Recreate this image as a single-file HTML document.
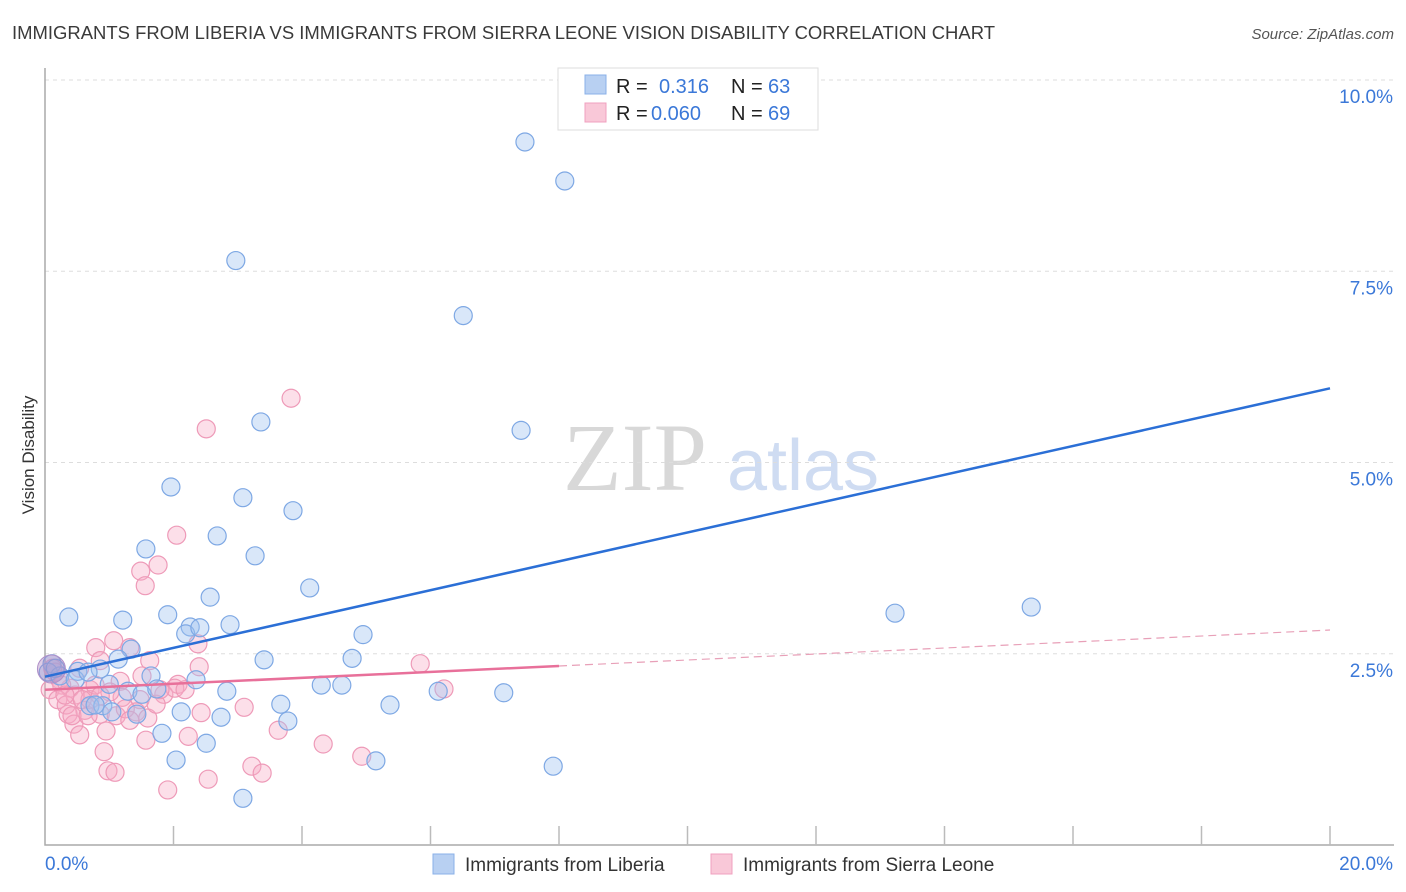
<!DOCTYPE html>
<html><head><meta charset="utf-8">
<style>
body{margin:0;background:#fff;font-family:"Liberation Sans",sans-serif;}
svg{display:block}
</style></head>
<body>
<svg id="chart" width="1406" height="892" xmlns="http://www.w3.org/2000/svg" font-family="Liberation Sans, sans-serif">
<text x="12" y="39" font-size="18" fill="#3a3a3a" textLength="983" lengthAdjust="spacingAndGlyphs">IMMIGRANTS FROM LIBERIA VS IMMIGRANTS FROM SIERRA LEONE VISION DISABILITY CORRELATION CHART</text>
<text x="1394" y="39" font-size="15" fill="#555" text-anchor="end" font-style="italic">Source: ZipAtlas.com</text>
<text x="34" y="455" font-size="17" fill="#333" text-anchor="middle" transform="rotate(-90 34 455)">Vision Disability</text>
<g>
<text x="635" y="490" font-size="96" fill="#d8d8d8" text-anchor="middle" font-family="Liberation Serif, serif">ZIP</text>
<text x="803" y="490" font-size="72" fill="#cfdcf2" text-anchor="middle">atlas</text>
</g>
<g id="grid"></g><g id="axes"></g><g id="pts"></g><g id="lines"></g>
<g>
<rect x="558" y="68" width="260" height="62" fill="#fff" stroke="#ddd"/>
<rect x="585" y="75" width="21" height="19" fill="#b8d0f2" stroke="#8ab0e8"/>
<rect x="585" y="103" width="21" height="19" fill="#f9c8d8" stroke="#f0a0bf"/>
<text x="616" y="93" font-size="20" fill="#222">R = </text><text x="659" y="93" font-size="20" fill="#3b78d8">0.316</text>
<text x="731" y="93" font-size="20" fill="#222">N = </text><text x="768" y="93" font-size="20" fill="#3b78d8">63</text>
<text x="616" y="120" font-size="20" fill="#222">R = </text><text x="651" y="120" font-size="20" fill="#3b78d8">0.060</text>
<text x="731" y="120" font-size="20" fill="#222">N = </text><text x="768" y="120" font-size="20" fill="#3b78d8">69</text>
</g>
<g>
<rect x="433" y="854" width="21" height="20" fill="#b8d0f2" stroke="#8ab0e8"/>
<text x="465" y="871" font-size="19" fill="#333">Immigrants from Liberia</text>
<rect x="711" y="854" width="21" height="20" fill="#f9c8d8" stroke="#f0a0bf"/>
<text x="743" y="871" font-size="19" fill="#333">Immigrants from Sierra Leone</text>
</g>
</svg>
<script>
const blueX=[7.47,8.09,2.97,6.51,7.41,3.36,1.96,3.08,3.86,2.68,1.57,3.27,4.12,2.57,0.37,1.21,1.91,13.23,15.35,2.26,2.88,2.19,2.41,4.95,1.34,1.14,3.41,4.78,0.11,0.51,0.86,1.65,2.35,1.00,1.29,1.51,1.74,2.83,4.30,4.62,6.12,7.14,0.70,0.90,3.67,5.37,2.12,2.74,3.78,1.43,1.82,2.51,2.04,5.15,7.91,3.08,0.05,0.23,0.47,0.67,0.16,0.78,1.04];
const blueY=[9.19,8.68,7.64,6.92,5.42,5.53,4.68,4.54,4.37,4.04,3.87,3.78,3.36,3.24,2.98,2.94,3.01,3.03,3.11,2.85,2.88,2.76,2.84,2.75,2.56,2.43,2.42,2.44,2.37,2.27,2.30,2.21,2.16,2.10,2.01,1.97,2.04,2.01,2.09,2.09,2.01,1.99,1.82,1.82,1.84,1.83,1.74,1.67,1.62,1.71,1.46,1.33,1.11,1.10,1.03,0.61,2.26,2.21,2.16,2.26,2.31,1.83,1.74];
const pinkX=[3.83,2.51,2.05,1.76,1.49,1.56,0.79,1.07,1.32,1.63,2.38,2.40,5.84,6.21,0.86,0.54,0.23,0.39,0.70,1.17,2.07,1.85,1.48,0.47,0.62,0.86,1.11,1.42,1.60,2.43,3.10,0.36,0.45,0.54,0.95,2.23,1.57,3.63,4.33,4.93,0.92,3.22,3.38,0.98,1.09,2.54,1.91,0.16,0.26,0.08,0.20,0.33,0.42,0.70,1.20,1.73,2.02,1.25,0.78,0.31,0.12,1.01,0.58,1.79,1.32,2.18,1.51,0.86,0.67];
const pinkY=[5.84,5.44,4.05,3.66,3.58,3.39,2.58,2.67,2.58,2.41,2.63,2.33,2.37,2.04,2.41,2.31,2.16,2.05,2.03,2.14,2.10,1.97,1.90,1.96,1.76,1.71,1.69,1.74,1.66,1.73,1.80,1.71,1.58,1.44,1.49,1.42,1.37,1.50,1.32,1.16,1.22,1.03,0.94,0.97,0.95,0.86,0.72,2.26,2.09,2.03,1.90,1.83,1.69,1.90,1.93,1.84,2.05,1.78,2.09,1.96,2.31,2.00,1.90,2.03,1.63,2.03,2.21,1.95,1.69];
const yTicks=[2.5,5.0,7.5,10.0];
const yTickLabels=["2.5%","5.0%","7.5%","10.0%"];
const xTicks=[0,2,4,6,8,10,12,14,16,18,20];
const blueTrend=[[0,2.2],[20,5.97]];
const pinkTrend=[[0,2.03],[8,2.34],[20,2.81]];
const NS="http://www.w3.org/2000/svg";
const X=v=>45+v*64.25, Y=v=>845-v*76.5;
function mk(p,t,a){const e=document.createElementNS(NS,t);for(const k in a)e.setAttribute(k,a[k]);p.appendChild(e);return e;}
const grid=document.getElementById('grid'),axes=document.getElementById('axes'),pts=document.getElementById('pts'),lines=document.getElementById('lines');
yTicks.forEach((t,i)=>{
 const l=mk(grid,'line',{x1:45,x2:1394,y1:Y(t),y2:Y(t),stroke:'#ddd','stroke-dasharray':'4,4'});
 
 
 const tx=mk(axes,'text',{x:1393,y:Y(t)+23,'font-size':19,fill:'#3b78d8','text-anchor':'end'});
 tx.textContent=yTickLabels[i];
 
 
});
const ax=mk(axes,'path',{d:'M45,68 L45,845 L1394,845',fill:'none',stroke:'#aaa','stroke-width':1.5});


xTicks.forEach(t=>{if(t===0)return;
 const l=mk(axes,'line',{x1:X(t),x2:X(t),y1:826,y2:845,stroke:'#bbb','stroke-width':1.5});
 
 
});
const xl0=mk(axes,'text',{x:45,y:870,'font-size':19,fill:'#3b78d8'});xl0.textContent='0.0%';


const xl1=mk(axes,'text',{x:1393,y:870,'font-size':19,fill:'#3b78d8','text-anchor':'end'});xl1.textContent='20.0%';


pinkX.forEach((v,i)=>{const c=mk(pts,'circle',{cx:X(v),cy:Y(pinkY[i]),r:9,fill:'rgba(246,170,198,0.38)',stroke:'#ee9ab8','stroke-width':1.2});
 
 });
blueX.forEach((v,i)=>{const c=mk(pts,'circle',{cx:X(v),cy:Y(blueY[i]),r:9,fill:'rgba(160,195,240,0.4)',stroke:'#7ea8e4','stroke-width':1.2});
 
 });
const big=mk(pts,'circle',{cx:X(0.1),cy:Y(2.3),r:14,fill:'rgba(170,130,190,0.4)',stroke:'#b090c8'});


const bl=mk(lines,'line',{x1:X(blueTrend[0][0]),y1:Y(blueTrend[0][1]),x2:X(blueTrend[1][0]),y2:Y(blueTrend[1][1]),stroke:'#2b6fd6','stroke-width':2.5});


const pl=mk(lines,'line',{x1:X(pinkTrend[0][0]),y1:Y(pinkTrend[0][1]),x2:X(pinkTrend[1][0]),y2:Y(pinkTrend[1][1]),stroke:'#e8709a','stroke-width':2.5});


const pd=mk(lines,'line',{x1:X(pinkTrend[1][0]),y1:Y(pinkTrend[1][1]),x2:X(pinkTrend[2][0]),y2:Y(pinkTrend[2][1]),stroke:'#e8a0b8','stroke-width':1.2,'stroke-dasharray':'8,5'});


</script>
</body></html>
